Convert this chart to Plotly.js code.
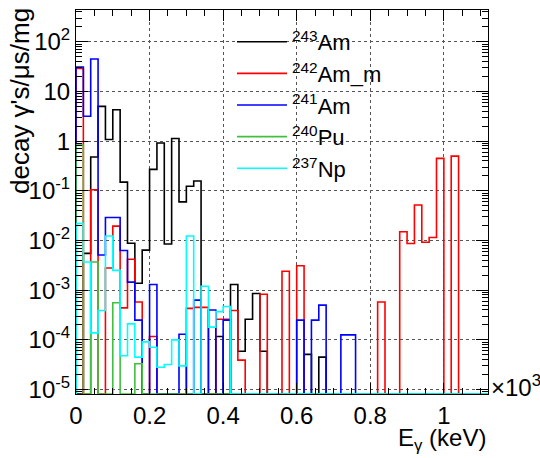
<!DOCTYPE html>
<html><head><meta charset="utf-8">
<script src="https://cdn.plot.ly/plotly-3.0.1.min.js"></script>
<style>html,body{margin:0;padding:0;background:#fff}#chart{width:540px;height:458px}</style>
</head><body><div id="chart"></div>
<script>
// 56 bins of 20 keV, 0 - 1120 keV
const binWidthKeV = 20;
const am243 = [0, 0.0055, 0.48, 5.0, 1.08, 4.3, 0.15, 0.0088, 0.00138, 0.0064,
  0.27, 0.92, 0.0085, 1.13, 0.060, 0.124, 0.158, 0, 0, 1.17e-4,
  0, 1.3e-3, 5.9e-5, 2.6e-4, 8.6e-4, 5.9e-5, 0, 0, 0, 0,
  0, 5.1e-5, 0, 4.5e-5, 0, 0, 0, 0, 0, 0,
  0, 0, 0, 0, 0, 0, 0, 0, 0, 0,
  0, 0, 0, 0, 0, 0];
const am242m = [29, 0, 0.105, 0, 0.0028, 0.0195, 4.4e-4, 0.0042, 5.8e-4, 0,
  1.17e-4, 0, 0, 0, 0, 4.3e-4, 4.5e-4, 4.5e-4, 0, 2.6e-4,
  2.6e-4, 3.9e-4, 3.9e-5, 0, 0, 8.3e-4, 0, 0, 2.4e-3, 0,
  3.1e-3, 0, 0, 0, 0, 0, 0, 0, 0, 0,
  0, 5.8e-4, 0, 0, 0.015, 0.0087, 0.052, 0.0092, 0.0115, 0.45,
  0, 0.5, 0, 0, 0, 0];
const am241 = [31, 3.16, 45, 0.0051, 0.029, 0.029, 0.0063, 0.00145, 2.5e-4, 0,
  1.3e-3, 0, 0, 0, 1.3e-4, 0, 6.3e-4, 0, 4.0e-4, 0,
  2.5e-4, 0, 0, 0, 0, 0, 0, 0, 0, 0,
  2.5e-4, 0, 2.5e-4, 5.0e-4, 0, 0, 1.26e-4, 1.26e-4, 0, 0,
  0, 0, 0, 0, 0, 0, 0, 0, 0, 0,
  0, 0, 0, 0, 0, 0];
const pu240 = [0.83, 0, 0.0037, 0, 0, 5.6e-4, 0, 0, 3.3e-5, 0,
  0, 0, 0, 0, 0, 0, 0, 0, 0, 0,
  0, 0, 0, 0, 0, 0, 0, 0, 0, 0,
  0, 0, 0, 0, 0, 0, 0, 0, 0, 0,
  0, 0, 0, 0, 0, 0, 0, 0, 0, 0,
  0, 0, 0, 0, 0, 0];
const np237 = [0.022, 0.0037, 1.38e-4, 3.9e-4, 0.0123, 0.0025, 4.8e-5, 2.1e-4, 4.5e-5, 9.1e-5,
  7.1e-5, 2.8e-5, 3.2e-5, 1.0e-4, 3.0e-5, 0.0123, 0, 1.2e-3, 1.8e-4, 3.7e-4,
  4.7e-4, 0, 0, 0, 0, 0, 0, 0, 0, 0,
  0, 0, 0, 0, 0, 0, 0, 0, 0, 0,
  0, 0, 0, 0, 0, 0, 0, 0, 0, 0,
  0, 0, 0, 0, 0, 0];

const seriesNames = ['<sup>243</sup>Am', '<sup>242</sup>Am_m', '<sup>241</sup>Am', '<sup>240</sup>Pu', '<sup>237</sup>Np'];
const seriesColors = ['#000000', '#ff0000', '#0000ff', '#40c040', '#00ffff'];
const xTickVals = [0, 0.2, 0.4, 0.6, 0.8, 1];
const xTickText = ['0', '0.2', '0.4', '0.6', '0.8', '1'];
const yTickVals = [1e-5, 1e-4, 1e-3, 1e-2, 1e-1, 1, 10, 100];
const yTickText = ['10<sup>-5</sup>', '10<sup>-4</sup>', '10<sup>-3</sup>', '10<sup>-2</sup>', '10<sup>-1</sup>', '1', '10', '10<sup>2</sup>'];

const yMinLog = -5.09, yMaxLog = 2.64;
const floorVal = Math.pow(10, yMinLog);

function stepTrace(vals, name, color) {
  const x = [0], y = [floorVal];
  for (let i = 0; i <= vals.length; i++) {
    const v = vals[Math.min(i, vals.length - 1)];
    x.push(i * binWidthKeV / 1000);
    y.push(v > 0 ? v : floorVal);
  }
  x.push(vals.length * binWidthKeV / 1000); y.push(floorVal);
  return {type: 'scatter', mode: 'lines', x: x, y: y, name: name,
    line: {shape: 'hv', color: color, width: 1.6}, hoverinfo: 'skip'};
}

const data = [am243, am242m, am241, pu240, np237].map((s, i) => stepTrace(s, seriesNames[i], seriesColors[i]));

const minorY = [];
for (let e = -6; e <= 2; e++) for (let m = 2; m <= 9; m++) minorY.push(m * Math.pow(10, e));

const W = 540, H = 458, L = 76, R = 52, T = 10, B = 63.5;
const pw = W - L - R, ph = H - T - B;
const px = v => (v - L) / pw;
const py = v => (H - B - v) / ph;

const layout = {
  width: W, height: H,
  margin: {l: L, r: R, t: T, b: B, pad: 0},
  paper_bgcolor: '#ffffff', plot_bgcolor: '#ffffff',
  font: {family: 'Liberation Sans, Arial, sans-serif', size: 24, color: '#000'},
  showlegend: true,
  legend: {x: px(232), y: py(21), xanchor: 'left', yanchor: 'top', bgcolor: 'rgba(0,0,0,0)',
    borderwidth: 0, font: {size: 22}, itemwidth: 50},
  xaxis: {range: [0, 1.12], tickmode: 'array', tickvals: xTickVals, ticktext: xTickText,
    ticks: 'inside', ticklen: 11, tickwidth: 1, tickcolor: '#000',
    showline: true, linecolor: '#000', linewidth: 1, mirror: 'allticks',
    showgrid: true, gridcolor: '#555', griddash: 'dot', gridwidth: 1, zeroline: false,
    minor: {dtick: 0.05, tick0: 0, ticks: 'inside', ticklen: 6, tickcolor: '#000', showgrid: false},
    tickfont: {size: 24}, fixedrange: true},
  yaxis: {type: 'log', range: [yMinLog, yMaxLog], tickmode: 'array', tickvals: yTickVals, ticktext: yTickText,
    ticks: 'inside', ticklen: 12, tickwidth: 1, tickcolor: '#000',
    showline: true, linecolor: '#000', linewidth: 1, mirror: 'allticks',
    showgrid: true, gridcolor: '#555', griddash: 'dot', gridwidth: 1, zeroline: false,
    minor: {tickmode: 'array', tickvals: minorY, ticks: 'inside', ticklen: 6, tickcolor: '#000', showgrid: false},
    tickfont: {size: 24}, fixedrange: true},
  annotations: [
    {text: "decay γ's/μs/mg", xref: 'paper', yref: 'paper', x: px(3), y: py(6), xanchor: 'left', yanchor: 'top',
      textangle: -90, showarrow: false, font: {size: 26}},
    {text: 'E<sub>γ</sub> (keV)', xref: 'paper', yref: 'paper', x: px(488), y: py(440), xanchor: 'right', yanchor: 'middle',
      showarrow: false, font: {size: 24}},
    {text: '×10<sup>3</sup>', xref: 'paper', yref: 'paper', x: px(489), y: py(386), xanchor: 'left', yanchor: 'middle',
      showarrow: false, font: {size: 24}}
  ]
};

Plotly.newPlot('chart', data, layout, {staticPlot: true, displayModeBar: false});
</script>
</body></html>
